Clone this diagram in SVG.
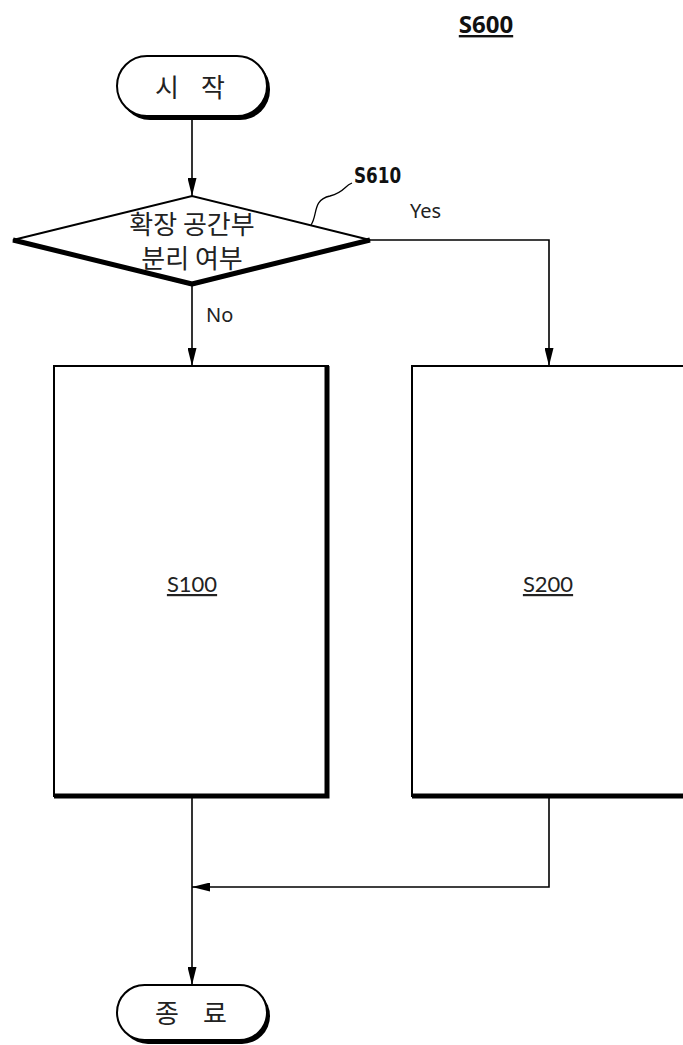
<svg xmlns="http://www.w3.org/2000/svg" width="683" height="1045" viewBox="0 0 683 1045">
  <defs>
    <marker id="arrow" viewBox="0 0 10 10" refX="10" refY="5" markerWidth="18" markerHeight="9" preserveAspectRatio="none" markerUnits="userSpaceOnUse" orient="auto">
      <path d="M0,0 L10,5 L0,10 Z" fill="#000"/>
    </marker>
  </defs>
  <style>
    .ko { font-family: "Noto Sans CJK KR", "Noto Sans", sans-serif; font-size: 26px; fill: #222; text-anchor: middle; }
    .lbl { font-family: "Noto Sans", "Liberation Sans", sans-serif; font-size: 20px; fill: #222; }
    .ref { font-family: "Lato", "Open Sans", sans-serif; font-size: 22px; fill: #222; text-anchor: middle; text-decoration: underline; }
    .line { fill: none; stroke: #000; stroke-width: 1.6; }
    .box { fill: #fff; stroke: #000; stroke-width: 2; }
    .heavy { fill: none; stroke: #000; stroke-width: 5; }
  </style>
  <rect width="683" height="1045" fill="#fff"/>

  <!-- title -->
  <text x="486" y="33" font-family="Open Sans, Noto Sans, sans-serif" font-weight="bold" font-size="24" fill="#111" text-anchor="middle" text-decoration="underline">S600</text>

  <!-- connectors -->
  <g id="connectors">
    <line class="line" x1="192" y1="118" x2="192" y2="196" marker-end="url(#arrow)"/>
    <polyline class="line" points="370,240 549,240 549,366" marker-end="url(#arrow)"/>
    <line class="line" x1="192" y1="285" x2="192" y2="366" marker-end="url(#arrow)"/>
    <line class="line" x1="192" y1="790" x2="192" y2="985" marker-end="url(#arrow)"/>
    <polyline class="line" points="549,798 549,887 192,887" marker-end="url(#arrow)"/>
    <text class="lbl" x="410" y="218">Yes</text>
    <text class="lbl" x="206" y="322">No</text>
  </g>

  <!-- start terminal -->
  <g id="start">
    <rect x="120" y="59" width="150" height="61" rx="30" fill="#000"/>
    <rect x="117" y="56" width="150" height="60" rx="30" class="box"/>
    <text class="ko" x="167" y="97">시</text>
    <text class="ko" x="213" y="97">작</text>
  </g>

  <!-- decision -->
  <g id="decision">
    <polygon points="13,240 192,196 370,240 192,285" class="box" stroke-width="1.6"/>
    <polyline class="heavy" points="13,240 192,284 370,240" stroke-linejoin="round"/>
    <text class="ko" x="192" y="234">확장 공간부</text>
    <text class="ko" x="192" y="268">분리 여부</text>
    <path d="M311,225 C318,215 312,200 330,196 C345,192 344,186 352,183" fill="none" stroke="#000" stroke-width="1.3"/>
    <text x="354" y="183" font-family="DejaVu Sans, sans-serif" font-weight="bold" font-size="21" fill="#111" transform="translate(354,183) scale(0.8,1) translate(-354,-183)">S610</text>
  </g>

  <!-- process S100 -->
  <g id="s100">
    <rect x="54" y="366" width="274" height="430" class="box"/>
    <polyline class="heavy" points="327,366 327,796 54,796"/>
    <text class="ref" x="192" y="592">S100</text>
  </g>

  <!-- process S200 -->
  <g id="s200">
    <rect x="412" y="366" width="280" height="430" class="box"/>
    <line class="heavy" x1="412" y1="796" x2="683" y2="796"/>
    <text class="ref" x="548" y="592">S200</text>
  </g>

  <!-- end terminal -->
  <g id="end">
    <rect x="120" y="988" width="150" height="56" rx="28" fill="#000"/>
    <rect x="117" y="985" width="150" height="55" rx="27.5" class="box"/>
    <text class="ko" x="167" y="1023">종</text>
    <text class="ko" x="215" y="1023">료</text>
  </g>
</svg>
